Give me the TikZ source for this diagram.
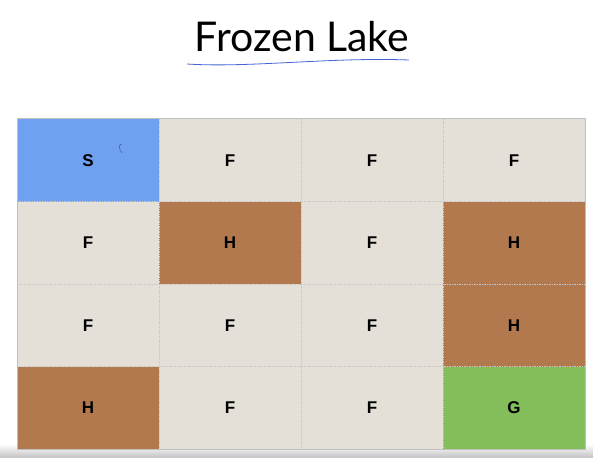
\documentclass[tikz,border=0pt]{standalone}
\usepackage{fontspec}
\setmainfont{Liberation Sans}
\newfontfamily\titlefont{Lato}
\usetikzlibrary{positioning}

\definecolor{cellS}{RGB}{111,161,240}
\definecolor{cellF}{RGB}{228,224,216}
\definecolor{cellH}{RGB}{178,121,79}
\definecolor{cellG}{RGB}{132,190,90}
\definecolor{pen}{RGB}{70,100,215}

\begin{document}
\begin{tikzpicture}[x=1pt, y=-1pt,
    cell/.style={minimum width=142pt, minimum height=82.5pt, inner sep=0pt,
      font=\bfseries\fontsize{17}{19}\selectfont},
    gridline/.style={dash pattern=on 1.5pt off 1pt, gray!45, line width=0.5pt}]
      \useasboundingbox (0,0) rectangle (593,457);
      \fill[white] (0,0) rectangle (593,457);
      \shade[top color=white, bottom color=gray!45] (0,444) rectangle (593,457);
      % title
      \node[font=\titlefont\fontsize{41}{46}\selectfont, anchor=base] (title) at (302,52) {Frozen Lake};
      \draw[pen, line width=0.8pt] (187,64) .. controls (250,68) and (330,57) .. (409,60);
      % cells
      \foreach \t [count=\i from 0] in {S,F,F,F,F,H,F,H,F,F,F,H,H,F,F,G} {
        \pgfmathtruncatemacro{\r}{\i/4}
        \pgfmathtruncatemacro{\c}{mod(\i,4)}
        \node[cell, fill=cell\t] (c\r\c) at ({88+142*\c},{160.25+82.5*\r}) {\t};
      }
      \foreach \c in {0,1,2}
        \draw[gridline] (c0\c.north east) -- (c3\c.south east);
      \foreach \r in {0,1,2}
        \draw[gridline] (c\r0.south west) -- (c\r3.south east);
      \draw[gray!50, line width=0.6pt] (c00.north west) rectangle (c33.south east);
      % mark in start cell
      \draw[pen, line width=0.7pt] (122,145) .. controls (119,142) and (118,149) .. (122,153);
\end{tikzpicture}
\end{document}
